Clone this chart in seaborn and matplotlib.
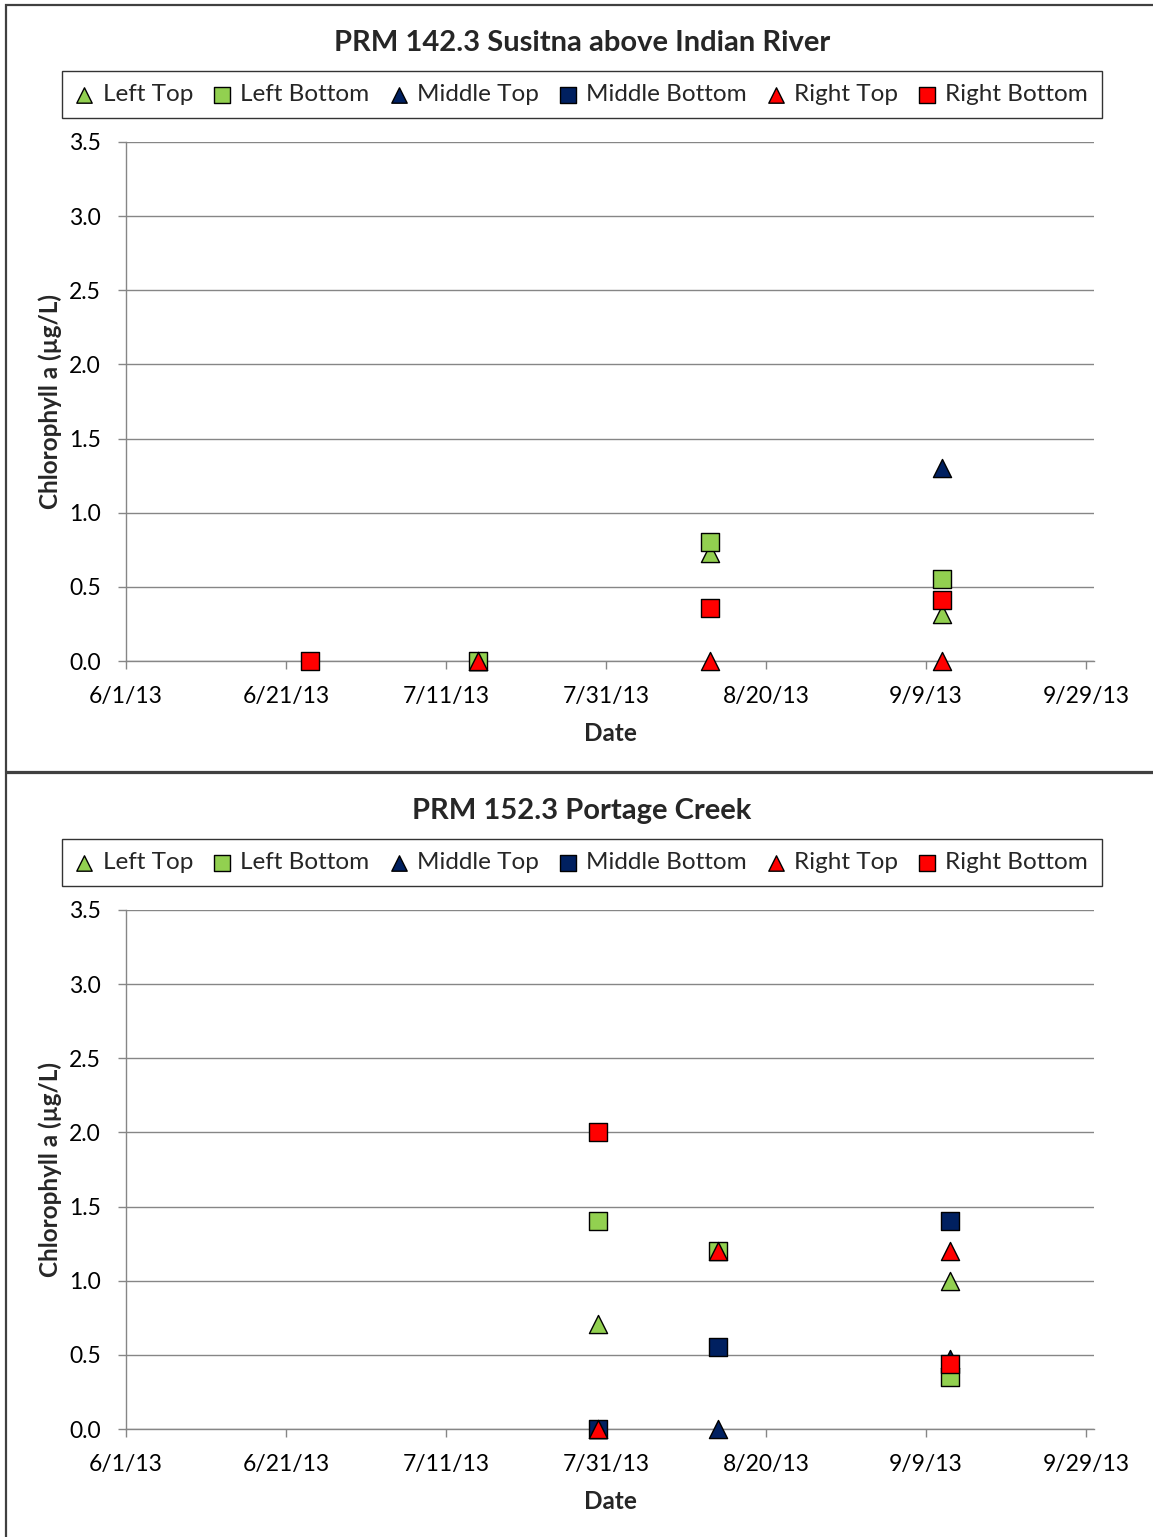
import matplotlib
matplotlib.use('Agg')
import matplotlib.pyplot as plt
import matplotlib.dates as mdates
import matplotlib.ticker as mticker
from matplotlib.patches import Rectangle
import pandas as pd
import seaborn as sns

sns.set_style('white')
plt.rcParams['font.family'] = ['Lato', 'DejaVu Sans']

series_names = ['Left Top', 'Left Bottom', 'Middle Top', 'Middle Bottom', 'Right Top', 'Right Bottom']
series_markers = ['^', 's', '^', 's', '^', 's']
series_colors = ['#92D050', '#92D050', '#002060', '#002060', '#FF0000', '#FF0000']

# PRM 142.3 Susitna above Indian River
top_dates = {
    'Left Top': ['2013-07-15', '2013-08-13', '2013-09-11'],
    'Left Bottom': ['2013-07-15', '2013-08-13', '2013-09-11'],
    'Middle Top': ['2013-09-11'],
    'Middle Bottom': [],
    'Right Top': ['2013-07-15', '2013-08-13', '2013-09-11'],
    'Right Bottom': ['2013-06-24', '2013-08-13', '2013-09-11'],
}
top_values = {
    'Left Top': [0.0, 0.73, 0.32],
    'Left Bottom': [0.0, 0.80, 0.55],
    'Middle Top': [1.30],
    'Middle Bottom': [],
    'Right Top': [0.0, 0.0, 0.0],
    'Right Bottom': [0.0, 0.36, 0.41],
}

# PRM 152.3 Portage Creek
bot_dates = {
    'Left Top': ['2013-07-30', '2013-09-12'],
    'Left Bottom': ['2013-07-30', '2013-08-14', '2013-09-12'],
    'Middle Top': ['2013-07-30', '2013-08-14', '2013-09-12'],
    'Middle Bottom': ['2013-07-30', '2013-08-14', '2013-09-12'],
    'Right Top': ['2013-07-30', '2013-08-14', '2013-09-12'],
    'Right Bottom': ['2013-07-30', '2013-09-12'],
}
bot_values = {
    'Left Top': [0.71, 1.0],
    'Left Bottom': [1.4, 1.2, 0.35],
    'Middle Top': [0.0, 0.0, 0.47],
    'Middle Bottom': [0.0, 0.55, 1.4],
    'Right Top': [0.0, 1.2, 1.2],
    'Right Bottom': [2.0, 0.44],
}

titles = ['PRM 142.3 Susitna above Indian River', 'PRM 152.3 Portage Creek']
tick_dates = pd.date_range('2013-06-01', periods=7, freq='20D')

W, H = 1153, 1537
fig = plt.figure(figsize=(W / 100, H / 100), dpi=100)

# panel borders
fig.patches.append(Rectangle((6 / W, 1 - 772 / H), 1.2, (772 - 5) / H, transform=fig.transFigure,
                             fill=False, edgecolor='#404040', linewidth=1.6))
fig.patches.append(Rectangle((6 / W, -0.1), 1.2, 0.1 + 1 - 773 / H, transform=fig.transFigure,
                             fill=False, edgecolor='#404040', linewidth=1.6))


def date_fmt(x, pos=None):
    d = mdates.num2date(x)
    return f'{d.month}/{d.day}/{d:%y}'


def draw_panel(top_px, dates, values, title):
    ax = fig.add_axes([126 / W, 1 - (top_px + 519) / H, 968 / W, 519 / H])
    for name, mk, col in zip(series_names, series_markers, series_colors):
        if len(values[name]) == 0:
            ax.scatter([], [], marker=mk, color=col, edgecolor='black', linewidth=1, s=170, label=name)
            continue
        df = pd.DataFrame({'date': pd.to_datetime(dates[name]), 'value': values[name]})
        sns.scatterplot(data=df, x='date', y='value', ax=ax, marker=mk, color=col,
                        edgecolor='black', linewidth=1, s=170, label=name, zorder=3, clip_on=False)
    ax.set_xlim(pd.Timestamp('2013-06-01'), pd.Timestamp('2013-09-30'))
    ax.set_ylim(0, 3.5)
    ax.set_xticks(tick_dates)
    ax.xaxis.set_major_formatter(mticker.FuncFormatter(date_fmt))
    ax.set_yticks([0, 0.5, 1, 1.5, 2, 2.5, 3, 3.5])
    ax.yaxis.set_major_formatter(mticker.FormatStrFormatter('%.1f'))
    ax.grid(axis='y', color='#868686', linewidth=1)
    ax.set_axisbelow(True)
    for s in ['top', 'right']:
        ax.spines[s].set_visible(False)
    for s in ['left', 'bottom']:
        ax.spines[s].set_color('#868686')
        ax.spines[s].set_linewidth(1)
    ax.tick_params(axis='both', direction='out', length=6, width=1, color='#868686',
                   labelsize=16.5, labelcolor='black', left=True, bottom=True)
    ax.tick_params(axis='y', pad=12)
    ax.tick_params(axis='x', pad=12)
    ax.set_xlabel('Date', fontsize=17.5, fontweight='bold', labelpad=11)
    ax.set_ylabel('Chlorophyll a (µg/L)', fontsize=17.5, fontweight='bold', labelpad=5)

    handles, labels = ax.get_legend_handles_labels()
    if ax.get_legend():
        ax.get_legend().remove()
    fig.legend(handles, labels, loc='center', bbox_to_anchor=(582 / W, 1 - (top_px - 47.5) / H),
               ncol=6, fontsize=17.5, frameon=True, fancybox=False, edgecolor='black',
               handlelength=0.7, handletextpad=0.4, columnspacing=0.85, borderpad=0.55,
               markerscale=0.85).get_frame().set_linewidth(1)
    fig.text(582 / W, 1 - (top_px - 99) / H, title, ha='center', va='center',
             fontsize=21, fontweight='bold')
    return ax


draw_panel(142, top_dates, top_values, titles[0])
draw_panel(910, bot_dates, bot_values, titles[1])

fig.savefig('out.png', dpi=100)
